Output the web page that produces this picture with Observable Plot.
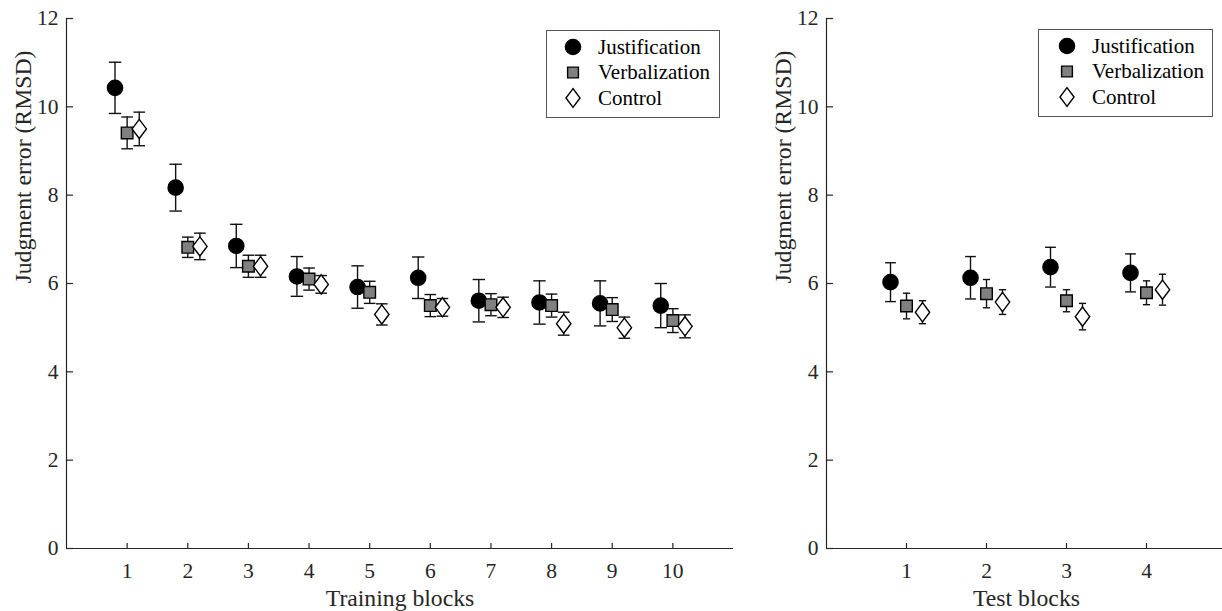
<!DOCTYPE html>
<html><head><meta charset="utf-8">
<script src="https://cdn.jsdelivr.net/npm/d3@7"></script>
<script src="https://cdn.jsdelivr.net/npm/@observablehq/plot@0.6"></script>
<style>
body{margin:0;background:#fff;}
#wrap{position:relative;width:1222px;height:611px;overflow:hidden;font-family:"Liberation Serif","Times New Roman",serif;}
.panel{position:absolute;top:0;}
.legend{position:absolute;}
</style></head><body><div id="wrap"></div>
<script>
// ---- data ----
const groups = ["Justification", "Verbalization", "Control"];
const trainingBlocks = [1, 2, 3, 4, 5, 6, 7, 8, 9, 10];
const testBlocks = [1, 2, 3, 4];
const yTicks = [0, 2, 4, 6, 8, 10, 12];

const trainJustification   = [10.43, 8.17, 6.85, 6.16, 5.92, 6.13, 5.61, 5.57, 5.55, 5.50];
const trainJustificationSE = [0.58, 0.53, 0.49, 0.45, 0.48, 0.47, 0.48, 0.49, 0.51, 0.50];
const trainVerbalization   = [9.41, 6.82, 6.39, 6.10, 5.80, 5.50, 5.52, 5.50, 5.41, 5.16];
const trainVerbalizationSE = [0.36, 0.23, 0.25, 0.25, 0.25, 0.25, 0.25, 0.26, 0.27, 0.27];
const trainControl         = [9.50, 6.84, 6.39, 5.98, 5.30, 5.46, 5.46, 5.09, 5.00, 5.03];
const trainControlSE       = [0.38, 0.30, 0.25, 0.20, 0.24, 0.20, 0.23, 0.26, 0.24, 0.26];

const testJustification   = [6.03, 6.13, 6.37, 6.24];
const testJustificationSE = [0.44, 0.48, 0.45, 0.43];
const testVerbalization   = [5.49, 5.77, 5.61, 5.79];
const testVerbalizationSE = [0.29, 0.32, 0.25, 0.27];
const testControl         = [5.35, 5.58, 5.25, 5.86];
const testControlSE       = [0.26, 0.28, 0.30, 0.35];

// ---- symbols ----
const rOf = size => Math.sqrt(size / Math.PI);
const circleSym = {draw(c, s){const r = rOf(s); c.moveTo(r, 0); c.arc(0, 0, r, 0, 2 * Math.PI); c.closePath();}};
const squareSym = {draw(c, s){const r = rOf(s); c.rect(-r, -r, 2 * r, 2 * r);}};
const diamondSym = {draw(c, s){const r = rOf(s), w = r * 0.75; c.moveTo(0, -r); c.lineTo(w, 0); c.lineTo(0, r); c.lineTo(-w, 0); c.closePath();}};
const capSym = {draw(c, s){const r = rOf(s); c.moveTo(-r, 0); c.lineTo(r, 0);}};

const style = {
  Justification: {symbol: circleSym, r: 7.6, fill: "#000", offset: -0.2},
  Verbalization: {symbol: squareSym, r: 5.8, fill: "#808080", offset: 0},
  Control: {symbol: diamondSym, r: 9.6, fill: "#fff", offset: 0.2}
};

function rows(blocks, means, ses) {
  return blocks.map((b, i) => ({block: b, mean: means[i], se: ses[i]}));
}

const ink = "#262626";

function panel({blocks, series, xDomain, width, marginRight, xLabel, caps}) {
  const marks = [];
  marks.push(Plot.ruleX([xDomain[0]], {stroke: ink, strokeWidth: 1.2}));
  marks.push(Plot.ruleY([0], {stroke: ink, strokeWidth: 1.2}));
  marks.push(Plot.axisY(yTicks, {tickSize: -7, tickPadding: 15, label: null, fontSize: 21.5, color: ink, strokeWidth: 1.2}));
  marks.push(Plot.axisX(blocks, {tickSize: -5, tickPadding: 19, label: null, fontSize: 21.5, color: ink, strokeWidth: 1.2, tickFormat: d => String(d)}));
  marks.push(Plot.text([xLabel], {frameAnchor: "bottom", dy: 50, text: d => d, fontSize: 23.7, lineAnchor: "middle", fill: ink}));
  marks.push(Plot.text(["Judgment error (RMSD)"], {frameAnchor: "left", dx: -43, rotate: -90, text: d => d, fontSize: 23.7, lineAnchor: "middle", fill: ink}));
  groups.forEach((g, gi) => {
    const st = style[g];
    const data = series[gi];
    const x = d => d.block + st.offset;
    marks.push(Plot.ruleX(data, {x, y1: d => d.mean - d.se, y2: d => d.mean + d.se, stroke: "#111", strokeWidth: 1.4}));
    marks.push(Plot.dot(data, {x, y: d => d.mean + d.se, symbol: capSym, r: caps[gi], stroke: "#111", strokeWidth: 1.4, fill: "none"}));
    marks.push(Plot.dot(data, {x, y: d => d.mean - d.se, symbol: capSym, r: caps[gi], stroke: "#111", strokeWidth: 1.4, fill: "none"}));
    marks.push(Plot.dot(data, {x, y: "mean", symbol: st.symbol, r: st.r, fill: st.fill, stroke: "#000", strokeWidth: 1.4}));
  });
  return Plot.plot({
    width, height: 611,
    marginLeft: 66, marginRight, marginTop: 18, marginBottom: 63,
    x: {domain: xDomain},
    y: {domain: [0, 12]},
    style: {fontFamily: "'Liberation Serif','Times New Roman',serif", background: "transparent", overflow: "visible"},
    marks
  });
}

const wrap = document.getElementById("wrap");

const left = panel({
  blocks: trainingBlocks,
  series: [rows(trainingBlocks, trainJustification, trainJustificationSE),
           rows(trainingBlocks, trainVerbalization, trainVerbalizationSE),
           rows(trainingBlocks, trainControl, trainControlSE)],
  xDomain: [0, 11], width: 760, marginRight: 27, xLabel: "Training blocks",
  caps: [6.2, 5.8, 5.8]
});
left.classList.add("panel"); left.style.left = "0px";
wrap.appendChild(left);

const right = panel({
  blocks: testBlocks,
  series: [rows(testBlocks, testJustification, testJustificationSE),
           rows(testBlocks, testVerbalization, testVerbalizationSE),
           rows(testBlocks, testControl, testControlSE)],
  xDomain: [0, 5], width: 466, marginRight: 0, xLabel: "Test blocks",
  caps: [5.4, 3.6, 3.6]
});
right.classList.add("panel"); right.style.left = "760px";
wrap.appendChild(right);

// ---- legends ----
function legend(leftPx, topPx, w, h, mx, tx) {
  const svg = d3.create("svg").attr("class", "legend").attr("width", w).attr("height", h)
    .style("left", leftPx + "px").style("top", topPx + "px");
  svg.append("rect").attr("x", 0.5).attr("y", 0.5).attr("width", w - 1).attr("height", h - 1)
    .attr("fill", "#fff").attr("stroke", "#555").attr("stroke-width", 1);
  const sizes = {Justification: 7.6, Verbalization: 5.4, Control: 9.4};
  groups.forEach((g, i) => {
    const cy = 17 + i * 25.5;
    const st = style[g];
    const r = sizes[g];
    const p = d3.path();
    st.symbol.draw(p, Math.PI * r * r);
    svg.append("path").attr("d", p.toString()).attr("transform", `translate(${mx},${cy})`)
      .attr("fill", st.fill).attr("stroke", "#000").attr("stroke-width", 1.4);
    svg.append("text").attr("x", tx).attr("y", cy).attr("dy", "0.33em")
      .attr("font-size", 21).attr("font-family", "'Liberation Serif','Times New Roman',serif")
      .attr("fill", "#000").text(g);
  });
  wrap.appendChild(svg.node());
}
legend(546, 30, 174, 88, 27, 52);
legend(1038, 29, 175, 88, 29, 54);
</script></body></html>
